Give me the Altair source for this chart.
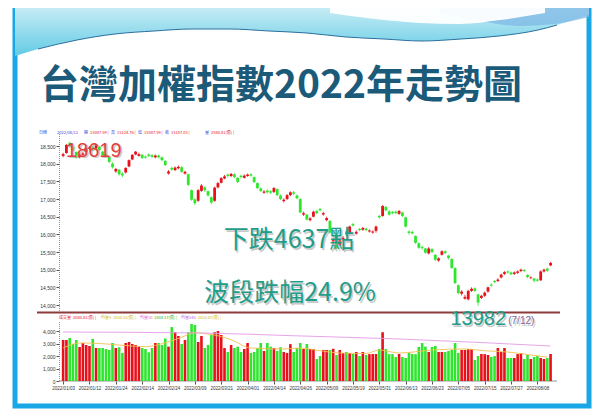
import altair as alt
import pandas as pd

# ---------------- chart values ----------------
opens = [18220, 18300, 18590, 18480, 18330, 18180, 18250, 18330, 18420, 18470,
         18430, 18480, 18340, 18260, 18200, 18000, 17780, 17830, 17720, 17750,
         17920, 18120, 18260, 18220, 18250, 18200, 18260, 18240, 18180, 18230,
         18180, 18080, 17720, 17880, 17820, 17870, 17900, 17720, 17700, 17250,
         16990, 16950, 17230, 17330, 17220, 17050, 16950, 17330, 17460, 17580,
         17690, 17650, 17700, 17600, 17660, 17600, 17650, 17700, 17620, 17450,
         17300, 17180, 17240, 17220, 17200, 17280, 17100, 16940, 17000, 17110,
         17190, 17100, 17000, 16560, 16560, 16400, 16500, 16660, 16720, 16560,
         16400, 16380, 15800, 16000, 15700, 15850, 16080, 16020, 16290, 16020,
         16150, 16130, 16160, 16080, 16050, 16100, 16520, 16520, 16780, 16650,
         16630, 16640, 16580, 16620, 16480, 16080, 16070, 15950, 15750, 15640,
         15600, 15460, 15580, 15420, 15260, 15420, 15520, 15400, 15300, 15050,
         14560, 14320, 14180, 14160, 14400, 14470, 14300, 14200, 14260, 14380,
         14580, 14680, 14680, 14780, 14880, 14950, 14920, 14880, 14910, 14960,
         14990, 14850, 14760, 14750, 14720, 14700, 14950, 15030, 15120]
closes = [18270, 18530, 18500, 18370, 18170, 18240, 18290, 18440, 18460, 18400,
          18520, 18380, 18230, 18220, 18050, 17900, 17850, 17700, 17670, 17880,
          18100, 18250, 18340, 18270, 18160, 18170, 18220, 18190, 18230, 18180,
          18100, 17960, 17780, 17830, 17890, 17910, 17770, 17770, 17400, 16980,
          16880, 17250, 17380, 17250, 17100, 16900, 17320, 17450, 17590, 17640,
          17650, 17710, 17620, 17480, 17620, 17660, 17690, 17660, 17480, 17310,
          17230, 17210, 17190, 17180, 17310, 17110, 17000, 16980, 17110, 17190,
          17150, 17020, 16620, 16600, 16420, 16450, 16640, 16600, 16680, 16600,
          16460, 16050, 15850, 15620, 15830, 15900, 15990, 16220, 16250, 16070,
          16120, 16180, 16120, 16110, 16080, 16220, 16480, 16800, 16680, 16560,
          16600, 16600, 16660, 16520, 16220, 16040, 16030, 15760, 15620, 15610,
          15480, 15600, 15500, 15280, 15320, 15520, 15470, 15330, 15050, 14620,
          14340, 14380, 14230, 14400, 14460, 14400, 14070, 14260, 14350, 14500,
          14550, 14650, 14720, 14860, 14930, 14920, 14870, 14920, 14950, 15000,
          14960, 14790, 14780, 14690, 14690, 14950, 15000, 14970, 15190]
highs = [18310, 18560, 18619, 18500, 18350, 18280, 18330, 18460, 18500, 18500,
         18550, 18500, 18360, 18290, 18220, 18040, 17880, 17850, 17760, 17900,
         18120, 18270, 18360, 18310, 18280, 18230, 18290, 18270, 18260, 18260,
         18200, 18100, 17820, 17910, 17920, 17950, 17930, 17800, 17720, 17270,
         17020, 17280, 17420, 17360, 17240, 17070, 17350, 17480, 17620, 17680,
         17720, 17740, 17730, 17620, 17690, 17700, 17720, 17730, 17640, 17470,
         17330, 17250, 17270, 17250, 17340, 17300, 17130, 17020, 17140, 17220,
         17230, 17130, 17020, 16640, 16580, 16490, 16670, 16690, 16750, 16640,
         16500, 16400, 15900, 16020, 15860, 15950, 16120, 16250, 16320, 16110,
         16180, 16210, 16190, 16140, 16110, 16250, 16550, 16830, 16800, 16680,
         16660, 16670, 16690, 16640, 16500, 16110, 16100, 15970, 15770, 15680,
         15620, 15640, 15610, 15440, 15350, 15550, 15550, 15420, 15320, 15060,
         14580, 14420, 14290, 14430, 14500, 14500, 14320, 14290, 14380, 14520,
         14610, 14710, 14760, 14890, 14960, 14980, 14950, 14950, 14980, 15030,
         15020, 14870, 14810, 14770, 14750, 14980, 15030, 15060, 15220]
lows = [18180, 18280, 18460, 18330, 18140, 18150, 18220, 18300, 18390, 18370,
        18400, 18350, 18200, 18180, 18020, 17860, 17740, 17660, 17620, 17720,
        17900, 18100, 18240, 18200, 18130, 18140, 18190, 18160, 18150, 18150,
        18070, 17930, 17690, 17800, 17790, 17840, 17740, 17690, 17370, 16950,
        16830, 16920, 17200, 17200, 17070, 16850, 16920, 17300, 17440, 17560,
        17610, 17620, 17590, 17450, 17580, 17580, 17630, 17630, 17450, 17280,
        17200, 17150, 17150, 17140, 17170, 17080, 16970, 16900, 16970, 17080,
        17110, 16990, 16600, 16520, 16390, 16370, 16480, 16570, 16650, 16530,
        16370, 16020, 15660, 15590, 15660, 15800, 15960, 16000, 16220, 15990,
        16090, 16100, 16090, 16050, 16020, 16050, 16450, 16500, 16650, 16530,
        16570, 16570, 16550, 16490, 16190, 15990, 16000, 15730, 15590, 15570,
        15450, 15430, 15470, 15250, 15220, 15400, 15440, 15290, 15020, 14590,
        14300, 14270, 14150, 14130, 14370, 14370, 13982, 14170, 14230, 14350,
        14520, 14620, 14650, 14750, 14850, 14890, 14840, 14850, 14880, 14930,
        14930, 14760, 14730, 14640, 14660, 14680, 14920, 14940, 15100]
volumes = [3280, 3280, 3440, 2960, 3280, 2720, 3040, 2880, 2800, 3360,
           2640, 2640, 2640, 2560, 2480, 3040, 2640, 2700, 2240, 3040,
           3120, 2960, 2880, 2750, 2640, 2560, 2300, 2640, 3040, 3040,
           2880, 3400, 2750, 4320, 3900, 3600, 2960, 3280, 3900, 4560,
           4480, 3120, 3600, 2640, 2880, 3680, 3900, 4000, 3680, 2640,
           2320, 2880, 2640, 2750, 2320, 2560, 3040, 2240, 2320, 2640,
           3040, 2400, 3040, 2750, 2640, 2400, 2700, 2320, 2240, 2950,
           2320, 2640, 3040, 2560, 2960, 2560, 2560, 1760, 2000, 2480,
           2480, 2480, 2580, 2080, 2480, 2240, 2320, 2240, 2160, 2320,
           2000, 2320, 2080, 2150, 2160, 2160, 2560, 3900, 2560, 2150,
           2150, 1920, 2160, 1920, 1840, 2240, 2160, 2150, 2720, 3040,
           2750, 2320, 2720, 2800, 2320, 2320, 2320, 2400, 2480, 3040,
           2240, 2480, 2480, 2560, 2560, 1680, 2000, 2160, 2150, 2080,
           1920, 2000, 2640, 2320, 2640, 1840, 1840, 1840, 2150, 2240,
           1760, 2080, 1760, 1920, 2000, 1840, 1760, 1840, 2160]

date_labels = ["2022/01/03", "2022/01/12", "2022/01/24", "2022/02/14", "2022/02/24",
               "2022/03/09", "2022/03/21", "2022/04/01", "2022/04/14", "2022/04/26",
               "2022/05/09", "2022/05/19", "2022/05/31", "2022/06/13", "2022/06/23",
               "2022/07/05", "2022/07/15", "2022/07/27", "2022/08/08"]
label_index = [0, 8, 16, 24, 32, 40, 48, 56, 64, 72, 80, 88, 96, 104, 112, 120, 128, 136, 144]

ma_short_idx = [0, 5, 11, 17, 21, 25, 31, 36, 40, 43, 47, 51, 57, 67, 72, 78, 84, 92, 96, 102, 112, 122, 128, 135, 142, 147]
ma_short_val = [2640, 3040, 3000, 2880, 2800, 2750, 3050, 3500, 3870, 3800, 3620, 3300, 2640, 2560, 2640,
                2420, 2240, 2200, 2480, 2240, 2480, 2560, 2420, 2320, 2080, 1920]
ma_long_idx = [0, 42, 70, 102, 148]
ma_long_val = [3920, 3840, 3620, 3360, 2800]

price_ticks = [14000, 14500, 15000, 15500, 16000, 16500, 17000, 17500, 18000, 18500]
vol_ticks = [0, 1000, 2000, 3000, 4000]

title_text = "台灣加權指數2022年走勢圖"
low_date_text = "(7/12)"

cand_header = ["日線", "2022/08/11", "開", "15087.59 |", "高", "15124.76 |", "低", "15087.59 |",
               "收", "15107.05 |", "量", "2580.81(億) |"]
vol_header = ["成交量", "2080.81(億) |", "均量5", "1830.53(億) |", "均量10", "1804.17(億) |",
              "均量240", "2022.07(億) |"]

# ---------------- layout / style (not data) ----------------
W, H = 584, 402
OFF = 8
def px(X):
    return X - OFF

RED, GREEN = "#e8101a", "#2ee62e"
BLUE_T, GOLD, PINK, VIOLET, GRN_T = "#1f3fd6", "#d2b800", "#e05ad8", "#b868e0", "#22b822"
TEAL = "#1f9d88"
CJK = "'Noto Sans CJK TC', 'Noto Sans', sans-serif"
LAT = "'Liberation Sans', Arial, sans-serif"

cand_header_x = [39, 57, 84, 90, 111, 117, 138, 144, 165, 171, 205, 211]
cand_header_c = [BLUE_T, BLUE_T, BLUE_T, RED, BLUE_T, RED, BLUE_T, RED, BLUE_T, RED, BLUE_T, RED]
vol_header_x = [59, 73, 101, 113, 140, 154, 181, 198]
vol_header_c = [RED, RED, GOLD, GOLD, PINK, GRN_T, VIOLET, GOLD]

wave_X = [15, 38, 77, 115, 154, 192, 230, 269, 307, 346, 384, 422, 461, 499, 538, 557, 576, 589]
wave_Y = [56, 49, 40, 34, 31, 29, 29, 31, 33, 37, 39, 41, 39, 36, 30, 25, 19, 15]
swoosh_X = [330, 375, 420, 460, 500, 545]
swoosh_Y = [13, 19, 23, 24, 20, 13]
blue_X = [440, 480, 520, 555, 589]
blue_Y = [13, 21, 26, 24, 17]

# ---------------- frames ----------------
df = pd.DataFrame({"i": list(range(len(closes))), "open": opens, "high": highs,
                   "low": lows, "close": closes, "vol": volumes})
df["dir"] = ["up" if c >= o else "down" for o, c in zip(opens, closes)]

one = pd.DataFrame({"k": [0]})

xs = alt.Scale(domain=[-15.22, 159.06], nice=False, zero=False)
ys_price = alt.Scale(domain=[11028.3, 22405.7], nice=False, zero=False)
ys_vol = alt.Scale(domain=[-2320, 29840], nice=False, zero=False)
deco_x = alt.Scale(domain=[8, 592], nice=False, zero=False)
deco_y = alt.Scale(domain=[8, 410], nice=False, zero=False, reverse=True)
dir_color = alt.Color("dir:N", scale=alt.Scale(domain=["up", "down"], range=[RED, GREEN]), legend=None)

# ---------------- decoration ----------------
frame = alt.Chart(one).mark_rect(fill="white", stroke="#1aa7e6", strokeWidth=5).encode(
    x=alt.value(px(15)), x2=alt.value(px(589)), y=alt.value(px(10)), y2=alt.value(px(406)))

wave_df = pd.DataFrame({"X": wave_X, "Y": wave_Y})
wave = alt.Chart(wave_df).mark_area(
    interpolate="monotone",
    color=alt.Gradient(gradient="linear",
                       stops=[alt.GradientStop(color="#d6f1f8", offset=0),
                              alt.GradientStop(color="#62cbe4", offset=1)],
                       x1=0, x2=0, y1=0, y2=1)).encode(
    x=alt.X("X:Q", scale=deco_x, axis=None), y=alt.Y("Y:Q", scale=deco_y, axis=None),
    y2=alt.value(px(12)))
blue_df = pd.DataFrame({"X": blue_X, "Y": blue_Y})
blue_area = alt.Chart(blue_df).mark_area(interpolate="monotone", color="#7fb8e6", opacity=0.75).encode(
    x=alt.X("X:Q", scale=deco_x, axis=None), y=alt.Y("Y:Q", scale=deco_y, axis=None),
    y2=alt.value(px(12)))
swoosh_df = pd.DataFrame({"X": swoosh_X, "Y": swoosh_Y})
swoosh = alt.Chart(swoosh_df).mark_area(interpolate="monotone", color="white", opacity=0.95).encode(
    x=alt.X("X:Q", scale=deco_x, axis=None), y=alt.Y("Y:Q", scale=deco_y, axis=None),
    y2=alt.value(px(12)))
wave_line = alt.Chart(wave_df.iloc[1:16]).mark_line(interpolate="monotone", color="#2b6f9e", strokeWidth=1).encode(
    x=alt.X("X:Q", scale=deco_x, axis=None), y=alt.Y("Y:Q", scale=deco_y, axis=None))

title = alt.Chart(one).mark_text(text=title_text, font=CJK, fontWeight="bold",
                                 fontSize=39, color="#1c5a79", align="center", baseline="middle").encode(
    x=alt.value(px(281)), y=alt.value(px(86)))

ch_df = pd.DataFrame({"t": cand_header, "X": cand_header_x, "c": cand_header_c, "Y": [133] * len(cand_header)})
vh_df = pd.DataFrame({"t": vol_header, "X": vol_header_x, "c": vol_header_c, "Y": [317.5] * len(vol_header)})
def header(d):
    return alt.Chart(d).mark_text(align="left", baseline="middle", fontSize=4, font=CJK).encode(
        x=alt.X("X:Q", scale=deco_x, axis=None), y=alt.Y("Y:Q", scale=deco_y, axis=None),
        text="t:N", color=alt.Color("c:N", scale=None))

axis_line_p = alt.Chart(one).mark_rule(color="#777", strokeWidth=0.8, strokeDash=[1, 1]).encode(
    x=alt.value(px(59.5)), y=alt.value(px(134)), y2=alt.value(px(312)))
axis_line_v = alt.Chart(one).mark_rule(color="#777", strokeWidth=0.8, strokeDash=[1, 1]).encode(
    x=alt.value(px(59.5)), y=alt.value(px(322)), y2=alt.value(px(381)))
base_line_v = alt.Chart(one).mark_rule(color="#777", strokeWidth=0.8).encode(
    x=alt.value(px(59.5)), x2=alt.value(px(557)), y=alt.value(px(381)))
sep_line = alt.Chart(one).mark_rule(color="#8e3a3a", strokeWidth=2).encode(
    x=alt.value(px(37)), x2=alt.value(px(560)), y=alt.value(px(312.5)))

# ---------------- candles ----------------
price_axis = alt.Axis(orient="left", offset=-51, values=price_ticks,
                      labelExpr="format(datum.value, ',')", domain=False,
                      grid=False, tickSize=3, tickColor="#555", labelFontSize=5, labelColor="#333",
                      labelPadding=1, title=None, labelFont=LAT, zindex=2)
wick = alt.Chart(df).mark_rule(strokeWidth=0.8).encode(
    x=alt.X("i:Q", scale=xs, axis=None),
    y=alt.Y("low:Q", scale=ys_price, axis=price_axis), y2="high:Q", color=dir_color)
body = alt.Chart(df).mark_bar(size=2.8).encode(
    x=alt.X("i:Q", scale=xs, axis=None),
    y=alt.Y("open:Q", scale=ys_price, axis=price_axis), y2="close:Q", color=dir_color)
candles = alt.layer(wick, body)

# ---------------- volume ----------------
label_expr = "[" + ",".join("'" + s + "'" for s in date_labels) + "][round(datum.value/8)]"
vol_axis_x = alt.Axis(orient="bottom", offset=-29, values=label_index, labelExpr=label_expr,
                      domain=False, grid=False, tickSize=3, tickColor="#555", labelFontSize=4.5,
                      labelColor="#333", labelPadding=1, title=None, labelAngle=0,
                      labelOverlap=False, labelFlush=False, labelFont=LAT, zindex=2)
vol_axis_y = alt.Axis(orient="left", offset=-51, values=vol_ticks,
                      labelExpr="format(datum.value, ',')", domain=False,
                      grid=False, tickSize=3, tickColor="#555", labelFontSize=5, labelColor="#333",
                      labelPadding=1, title=None, labelFont=LAT, zindex=2)
vbars = alt.Chart(df).mark_bar(size=2.6).encode(
    x=alt.X("i:Q", scale=xs, axis=vol_axis_x),
    y=alt.Y("vol:Q", scale=ys_vol, axis=vol_axis_y), y2=alt.datum(0), color=dir_color)
ma_s = alt.Chart(pd.DataFrame({"i": ma_short_idx, "v": ma_short_val})).mark_line(
    color="#f2c04e", strokeWidth=0.9, interpolate="monotone").encode(
    x=alt.X("i:Q", scale=xs, axis=vol_axis_x), y=alt.Y("v:Q", scale=ys_vol, axis=vol_axis_y))
ma_l = alt.Chart(pd.DataFrame({"i": ma_long_idx, "v": ma_long_val})).mark_line(
    color="#e49be6", strokeWidth=0.9, interpolate="monotone").encode(
    x=alt.X("i:Q", scale=xs, axis=vol_axis_x), y=alt.Y("v:Q", scale=ys_vol, axis=vol_axis_y))
volume = alt.layer(vbars, ma_s, ma_l)

# ---------------- annotations ----------------
hi_val = max(highs)
hi_i = highs.index(hi_val)
lo_val = min(lows)
lo_i = lows.index(lo_val)
drop = hi_val - lo_val
pct = drop / hi_val * 100

def fancy(data, enc, fill, size, font, dx=0, dy=0, align="center", weight="normal"):
    common = dict(align=align, baseline="middle", fontSize=size, font=font, fontWeight=weight)
    sh = alt.Chart(data).mark_text(color="#a0a0a0", opacity=0.55, dx=dx + 1.5, dy=dy + 1.5, **common).encode(**enc)
    main = alt.Chart(data).mark_text(color=fill, dx=dx, dy=dy, **common).encode(**enc)
    return [sh, main]

hi_df = pd.DataFrame({"i": [hi_i], "v": [hi_val], "t": [str(hi_val)]})
lo_df = pd.DataFrame({"i": [lo_i], "v": [lo_val], "t": [str(lo_val)], "d": [low_date_text]})
enc_hi = dict(x=alt.X("i:Q", scale=xs, axis=None), y=alt.Y("v:Q", scale=ys_price, axis=None), text="t:N")
enc_lo = dict(x=alt.X("i:Q", scale=xs, axis=None), y=alt.Y("v:Q", scale=ys_price, axis=None), text="t:N")
enc_lod = dict(x=alt.X("i:Q", scale=xs, axis=None), y=alt.Y("v:Q", scale=ys_price, axis=None), text="d:N")

ann = []
ann += fancy(hi_df, enc_hi, "#e2403f", 20, LAT, dx=28, dy=9)
ann += fancy(lo_df, enc_lo, TEAL, 20, LAT, dx=-3, dy=13.5)
ann += fancy(lo_df, enc_lod, "#7a68a0", 10, LAT, dx=27, dy=15.5, align="left")

drop_df = pd.DataFrame({"t": [f"下跌{drop}點"]})
pct_df = pd.DataFrame({"t": [f"波段跌幅{pct:.1f}%"]})
ann += fancy(drop_df, dict(x=alt.value(px(289)), y=alt.value(px(240)), text="t:N"), TEAL, 25, CJK)
ann += fancy(pct_df, dict(x=alt.value(px(290)), y=alt.value(px(293)), text="t:N"), TEAL, 25, CJK)

layers = [frame, wave, blue_area, swoosh, wave_line, title, header(ch_df), header(vh_df),
          axis_line_p, axis_line_v, base_line_v, sep_line, candles, volume] + ann

chart = alt.layer(*layers).resolve_scale(
    x="independent", y="independent", color="independent"
).properties(
    width=W, height=H, padding=0, autosize=alt.AutoSizeParams(type="none"),
    background="white"
).configure_view(stroke=None)

chart.save("out.html", embed_options={"renderer": "svg", "actions": False})
